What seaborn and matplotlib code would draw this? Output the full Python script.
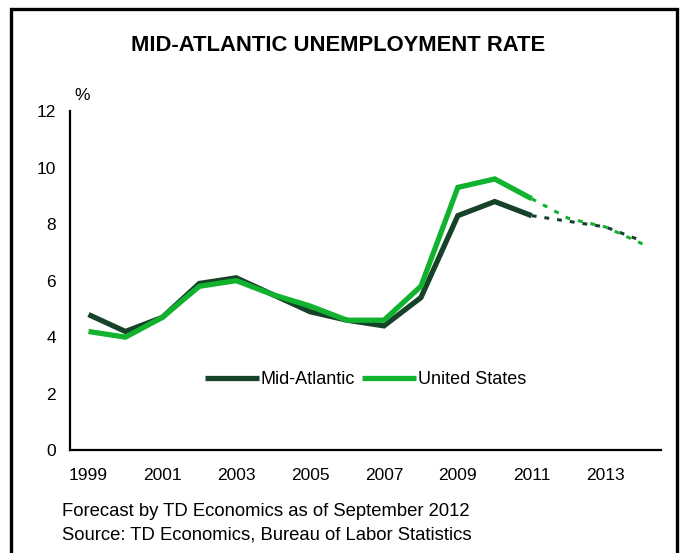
import matplotlib
matplotlib.use("Agg")
import matplotlib.pyplot as plt
import seaborn as sns
import pandas as pd
from matplotlib.patches import Rectangle

sns.set_theme(style="white")
plt.rcParams["font.family"] = ["Liberation Sans", "DejaVu Sans"]
plt.rcParams["text.color"] = "black"

# Annual unemployment rate, %
years = list(range(1999, 2012))
mid_atlantic = [4.8, 4.2, 4.7, 5.9, 6.1, 5.5, 4.9, 4.6, 4.4, 5.4, 8.3, 8.8, 8.3]
united_states = [4.2, 4.0, 4.7, 5.8, 6.0, 5.5, 5.1, 4.6, 4.6, 5.8, 9.3, 9.6, 8.9]

# TD Economics forecast (starts from the last actual year)
fc_years = [2011, 2012, 2013, 2014]
mid_atlantic_fc = [8.3, 8.1, 7.9, 7.4]
united_states_fc = [8.9, 8.2, 7.9, 7.3]

series_names = ["Mid-Atlantic", "United States"]
palette = {"Mid-Atlantic": "#17422a", "United States": "#10b22e"}

tick_years = list(range(1999, 2014, 2))
y_ticks = [0, 2, 4, 6, 8, 10, 12]

hist = pd.DataFrame({
    "year": years * 2,
    "rate": mid_atlantic + united_states,
    "region": [series_names[0]] * len(years) + [series_names[1]] * len(years),
})
fc = pd.DataFrame({
    "year": fc_years * 2,
    "rate": mid_atlantic_fc + united_states_fc,
    "region": [series_names[0]] * len(fc_years) + [series_names[1]] * len(fc_years),
})

fig = plt.figure(figsize=(6.8, 5.53), dpi=100)
ax = fig.add_axes([0.103, 0.186, 0.869, 0.613])

sns.lineplot(data=fc, x="year", y="rate", hue="region", palette=palette,
             hue_order=series_names[::-1], legend=False, ax=ax,
             linewidth=2.2, dashes=False)
for ln in ax.lines:
    ln.set_dashes([1.6, 2.6])
    ln.set_dash_capstyle("butt")

sns.lineplot(data=hist, x="year", y="rate", hue="region", palette=palette,
             hue_order=series_names, ax=ax, linewidth=3.8)
for ln in ax.lines[2:]:
    ln.set_solid_capstyle("butt")
    ln.set_solid_joinstyle("miter")

ax.set_xlim(1998.5, 2014.5)
ax.set_ylim(0, 12)
ax.set_xticks(tick_years)
ax.set_xticklabels([str(y) for y in tick_years])
ax.set_yticks(y_ticks)
ax.set_xlabel("")
ax.set_ylabel("")
ax.tick_params(axis="both", length=0, labelsize=12.5, colors="black")
ax.tick_params(axis="x", pad=13)
ax.tick_params(axis="y", pad=10)
for side in ["top", "right"]:
    ax.spines[side].set_visible(False)
for side in ["left", "bottom"]:
    ax.spines[side].set_color("black")
    ax.spines[side].set_linewidth(1.6)

leg = ax.legend(loc="center", bbox_to_anchor=(0.5, 0.207), ncol=2, frameon=False,
                fontsize=13, handlelength=3.0, handletextpad=0.1,
                columnspacing=0.4)
for h in leg.get_lines():
    h.set_linewidth(3.8)
for t in leg.get_texts():
    t.set_color("black")

fig.text(0.497, 0.917, "MID-ATLANTIC UNEMPLOYMENT RATE", ha="center", va="center",
         fontsize=15.8, fontweight="bold")
fig.text(0.11, 0.828, "%", ha="left", va="center", fontsize=12.5)
fig.text(0.091, 0.075, "Forecast by TD Economics as of September 2012",
         ha="left", va="center", fontsize=13.3)
fig.text(0.091, 0.032, "Source: TD Economics, Bureau of Labor Statistics",
         ha="left", va="center", fontsize=13.3)

fig.patches.append(Rectangle((0.0165, -0.05), 0.9785, 1.034, transform=fig.transFigure,
                             fill=False, edgecolor="black", linewidth=2.4))

fig.savefig("out.png", dpi=100, facecolor="white")
